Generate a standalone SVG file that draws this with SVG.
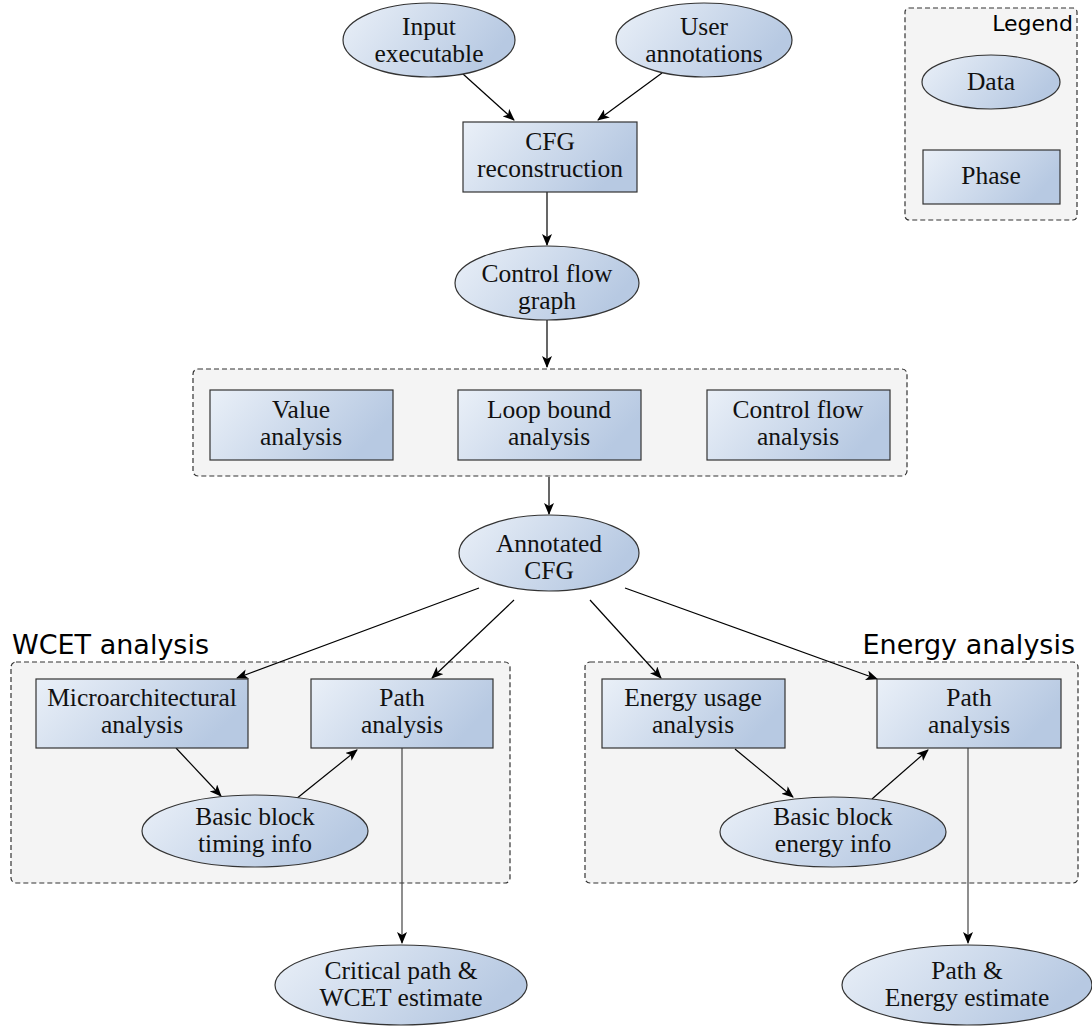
<svg xmlns="http://www.w3.org/2000/svg" width="1092" height="1030" viewBox="0 0 1092 1030">
<defs>
<linearGradient id="g" x1="0" y1="0" x2="1" y2="0.35">
<stop offset="0" stop-color="#eaf0f8"/>
<stop offset="1" stop-color="#b7c9e2"/>
</linearGradient>
<marker id="ah" viewBox="0 0 12 10" refX="11" refY="5" markerWidth="12" markerHeight="10" markerUnits="userSpaceOnUse" orient="auto">
<path d="M0,0 L12,5 L0,10 L3,5 Z" fill="#000"/>
</marker>
</defs>
<style>
.n{fill:url(#g);stroke:#333;stroke-width:1.2}
.grp{fill:#f4f4f4;stroke:#333;stroke-width:1.2;stroke-dasharray:5,3}
.t{font-family:"Liberation Serif","Times New Roman",serif;font-size:25.5px;fill:#111;text-anchor:middle}
.h{font-family:"DejaVu Sans",sans-serif;font-size:27px;fill:#000}
.c{stroke:#000;stroke-width:1.2;fill:none;marker-end:url(#ah)}
</style>
<rect width="1092" height="1030" fill="#fff"/>

<g id="legend">
<rect class="grp" x="905" y="8" width="172" height="212" rx="4"/>
<text x="1073" y="31" style="font-family:'DejaVu Sans',sans-serif;font-size:22px;text-anchor:end">Legend</text>
<ellipse class="n" cx="991" cy="82" rx="69" ry="27"/>
<text class="t" x="991" y="90">Data</text>
<rect class="n" x="923" y="150" width="137" height="54"/>
<text class="t" x="991" y="184">Phase</text>
</g>

<g id="analysis-group"><rect class="grp" x="193" y="369" width="714" height="107" rx="5"/></g>
<g id="wcet-group">
<rect class="grp" x="11" y="662" width="499" height="221" rx="5"/>
<text class="h" x="12" y="654">WCET analysis</text>
</g>
<g id="energy-group">
<rect class="grp" x="585" y="662" width="493" height="221" rx="5"/>
<text class="h" x="1075" y="654" text-anchor="end">Energy analysis</text>
</g>

<g id="connectors">
<line class="c" x1="463" y1="74" x2="514" y2="120"/>
<line class="c" x1="662" y1="73" x2="598" y2="120"/>
<line class="c" x1="547" y1="192" x2="547" y2="245"/>
<line class="c" x1="547" y1="320" x2="547" y2="367"/>
<line class="c" x1="549" y1="477" x2="549" y2="514"/>
<line class="c" x1="479" y1="588" x2="237" y2="678"/>
<line class="c" x1="514" y1="600" x2="432" y2="678"/>
<line class="c" x1="590" y1="600" x2="661" y2="678"/>
<line class="c" x1="625" y1="588" x2="877" y2="679"/>
<line class="c" x1="176" y1="748" x2="221" y2="796"/>
<line class="c" x1="296" y1="799" x2="357" y2="750"/>
<line class="c" x1="735" y1="749" x2="793" y2="797"/>
<line class="c" x1="872" y1="799" x2="928" y2="750"/>
<line class="c" x1="402" y1="748" x2="402" y2="943" style="stroke:#444"/>
<line class="c" x1="968" y1="748" x2="968" y2="943" style="stroke:#444"/>
</g>

<g id="input-executable">
<ellipse class="n" cx="429" cy="40" rx="86" ry="37"/>
<text class="t" x="429" y="35">Input</text>
<text class="t" x="429" y="62">executable</text>
</g>
<g id="user-annotations">
<ellipse class="n" cx="704" cy="40" rx="88" ry="37"/>
<text class="t" x="704" y="35">User</text>
<text class="t" x="704" y="62">annotations</text>
</g>
<g id="cfg-reconstruction">
<rect class="n" x="463" y="122" width="174" height="70"/>
<text class="t" x="550" y="150">CFG</text>
<text class="t" x="550" y="177">reconstruction</text>
</g>
<g id="control-flow-graph">
<ellipse class="n" cx="547" cy="283" rx="92" ry="37"/>
<text class="t" x="547" y="282">Control flow</text>
<text class="t" x="547" y="309">graph</text>
</g>
<g id="value-analysis">
<rect class="n" x="210" y="390" width="183" height="70"/>
<text class="t" x="301" y="418">Value</text>
<text class="t" x="301" y="445">analysis</text>
</g>
<g id="loop-bound-analysis">
<rect class="n" x="458" y="390" width="183" height="70"/>
<text class="t" x="549" y="418">Loop bound</text>
<text class="t" x="549" y="445">analysis</text>
</g>
<g id="control-flow-analysis">
<rect class="n" x="707" y="390" width="183" height="70"/>
<text class="t" x="798" y="418">Control flow</text>
<text class="t" x="798" y="445">analysis</text>
</g>
<g id="annotated-cfg">
<ellipse class="n" cx="549" cy="553" rx="90" ry="38"/>
<text class="t" x="549" y="552">Annotated</text>
<text class="t" x="549" y="579">CFG</text>
</g>
<g id="microarchitectural-analysis">
<rect class="n" x="36" y="679" width="212" height="69"/>
<text class="t" x="142" y="706">Microarchitectural</text>
<text class="t" x="142" y="733">analysis</text>
</g>
<g id="wcet-path-analysis">
<rect class="n" x="311" y="679" width="182" height="69"/>
<text class="t" x="402" y="706">Path</text>
<text class="t" x="402" y="733">analysis</text>
</g>
<g id="bb-timing-info">
<ellipse class="n" cx="255" cy="831" rx="113" ry="36"/>
<text class="t" x="255" y="825">Basic block</text>
<text class="t" x="255" y="852">timing info</text>
</g>
<g id="energy-usage-analysis">
<rect class="n" x="602" y="679" width="183" height="69"/>
<text class="t" x="693" y="706">Energy usage</text>
<text class="t" x="693" y="733">analysis</text>
</g>
<g id="energy-path-analysis">
<rect class="n" x="877" y="679" width="184" height="69"/>
<text class="t" x="969" y="706">Path</text>
<text class="t" x="969" y="733">analysis</text>
</g>
<g id="bb-energy-info">
<ellipse class="n" cx="833" cy="832" rx="113" ry="35"/>
<text class="t" x="833" y="825">Basic block</text>
<text class="t" x="833" y="852">energy info</text>
</g>
<g id="critical-path-estimate">
<ellipse class="n" cx="401" cy="985" rx="126" ry="40"/>
<text class="t" x="401" y="979">Critical path &amp;</text>
<text class="t" x="401" y="1006">WCET estimate</text>
</g>
<g id="path-energy-estimate">
<ellipse class="n" cx="967" cy="985" rx="125" ry="40"/>
<text class="t" x="967" y="979">Path &amp;</text>
<text class="t" x="967" y="1006">Energy estimate</text>
</g>
</svg>
